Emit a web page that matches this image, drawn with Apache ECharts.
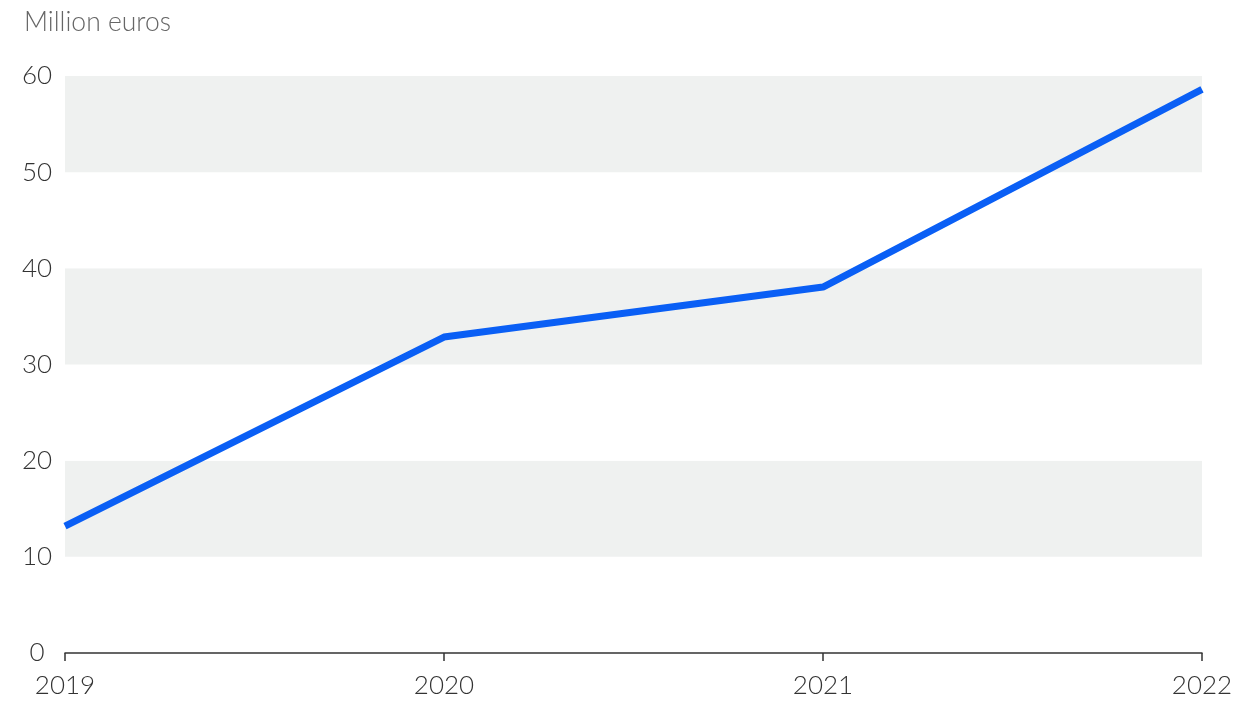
<!DOCTYPE html>
<html><head><meta charset="utf-8">
<script src="https://cdn.jsdelivr.net/npm/echarts@6/dist/echarts.min.js"></script>
<style>html,body{margin:0;padding:0;background:#fff}#c{width:1236px;height:701px}</style>
</head><body><div id="c"></div>
<script>
const years = ['2019','2020','2021','2022'];
const values = [13.2, 32.85, 38.05, 58.6];
const unitLabel = 'Million euros';
const chart = echarts.init(document.getElementById('c'));
chart.setOption({
  animation: false,
  title: { text: unitLabel, left: 19, top: 4, textStyle: { fontFamily: 'Lato', fontSize: 26.5, fontWeight: 300, color: '#666' } },
  grid: { left: 65, right: 34, top: 76, bottom: 48 },
  xAxis: {
    type: 'category', data: years, boundaryGap: false,
    axisLine: { lineStyle: { color: '#333', width: 1.5 } },
    axisTick: { show: true, length: 8, alignWithLabel: true, lineStyle: { color: '#333', width: 1.5 } },
    axisLabel: { fontFamily: 'Lato', fontSize: 26, fontWeight: 300, color: '#333', margin: 20 },
    splitLine: { show: false }
  },
  yAxis: {
    type: 'value', min: 0, max: 60, interval: 10,
    axisLine: { show: false }, axisTick: { show: false },
    axisLabel: { fontFamily: 'Lato', fontSize: 26, fontWeight: 300, color: '#333', align: 'center', margin: 28, padding: [0, 0, 6, 0] },
    splitLine: { show: false },
    splitArea: { show: true, areaStyle: { color: ['#ffffff', '#eff1f0'] } }
  },
  series: [{
    type: 'line', data: values, symbol: 'none',
    lineStyle: { color: '#0a5ff5', width: 7 }
  }]
});
</script></body></html>
